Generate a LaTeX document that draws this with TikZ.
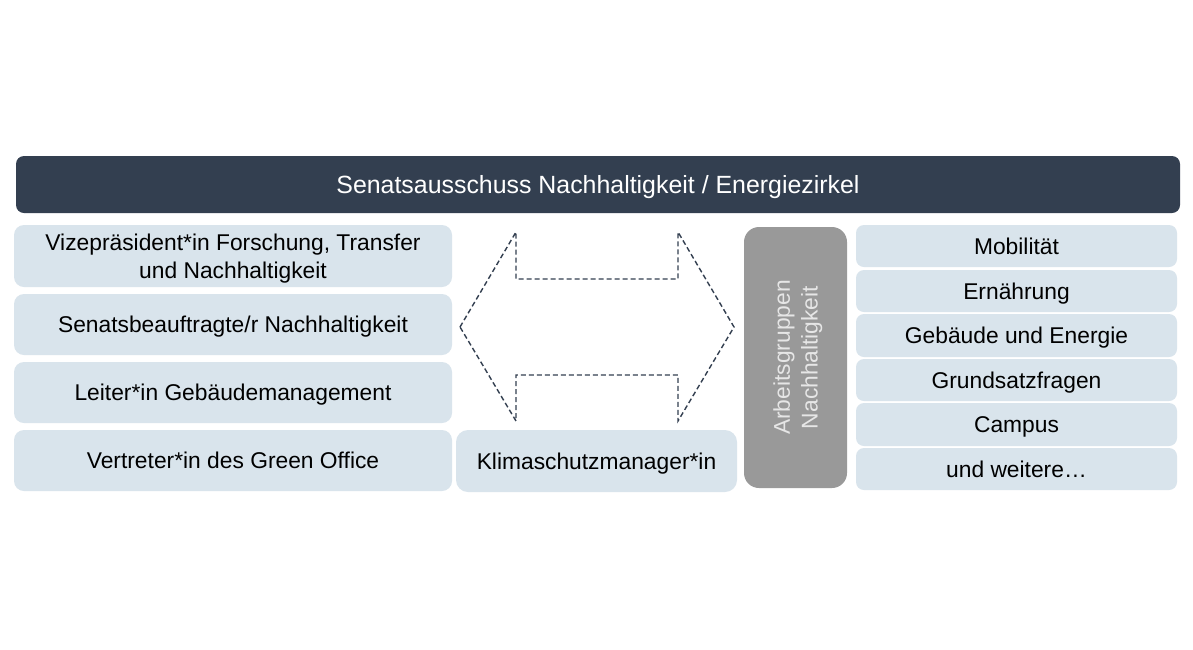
\documentclass[tikz,border=0pt]{standalone}
\usepackage{fontspec}
\setmainfont{Liberation Sans}
\definecolor{barcol}{HTML}{333F50}
\definecolor{boxcol}{HTML}{D9E4EC}
\definecolor{graycol}{HTML}{999999}
\definecolor{graytext}{HTML}{E6E6E6}
\begin{document}
\begin{tikzpicture}[x=1pt,y=-1pt,
  txt/.style={font=\fontsize{22.8}{27.8}\selectfont, text height=16.4pt, text depth=0pt, inner sep=0pt, outer sep=0pt, align=center},
  twoline/.style={text height=44.2pt, text depth=0pt},
  lbox/.style={txt, fill=boxcol, rounded corners=10pt, text=black},
  rbox/.style={txt, fill=boxcol, rounded corners=8pt, text=black, minimum width=321pt},
  arrowline/.style={draw=barcol, line width=1.4pt, dash pattern=on 5pt off 3pt}
]
\useasboundingbox (0,0) rectangle (1193,649);
\fill[white] (0,0) rectangle (1193,649);

% top bar
\node[txt, font=\fontsize{24.9}{30}\selectfont, text height=17.9pt, fill=barcol, text=white, rounded corners=8pt, minimum width=1164pt, minimum height=57pt] (top) at (598,184.5) {Senatsausschuss Nachhaltigkeit / Energiezirkel};

% left column
\node[lbox, twoline, minimum width=438pt, minimum height=62pt] (v1) at (233,256) {Vizepräsident*in Forschung, Transfer\\und Nachhaltigkeit};
\node[lbox, minimum width=438pt, minimum height=61pt] (v2) at (233,324.5) {Senatsbeauftragte/r Nachhaltigkeit};
\node[lbox, minimum width=438pt, minimum height=61pt] (v3) at (233,392.5) {Leiter*in Gebäudemanagement};
\node[lbox, minimum width=438pt, minimum height=61pt] (v4) at (233,460.5) {Vertreter*in des Green Office};

% middle
\node[lbox, rounded corners=12pt, minimum width=281pt, minimum height=62pt] (klima) at (596.5,461) {Klimaschutzmanager*in};

% double arrow
\coordinate (aL) at (460,327);
\coordinate (aR) at (734,327);
\draw[arrowline] (aL) -- (516,232) -- (516,279) -- (678,279) -- (678,232) -- (aR)
  -- (678,421) -- (678,375) -- (516,375) -- (516,421) -- cycle;

% gray box
\node[txt, fill=graycol, rounded corners=15pt, minimum width=103pt, minimum height=261pt] (ag) at (795.5,357.5) {};
\node[txt, twoline, text=graytext, rotate=90] (agt) at (ag.center) {Arbeitsgruppen\\Nachhaltigkeit};

% right column
\node[rbox, minimum height=42pt] (r1) at (1016.5,246) {Mobilität};
\node[rbox, minimum height=42pt] (r2) at (1016.5,291) {Ernährung};
\node[rbox, minimum height=43pt] (r3) at (1016.5,335.5) {Gebäude und Energie};
\node[rbox, minimum height=42pt] (r4) at (1016.5,380) {Grundsatzfragen};
\node[rbox, minimum height=43pt] (r5) at (1016.5,424.5) {Campus};
\node[rbox, minimum height=42pt] (r6) at (1016.5,469) {und weitere…};
\end{tikzpicture}
\end{document}
